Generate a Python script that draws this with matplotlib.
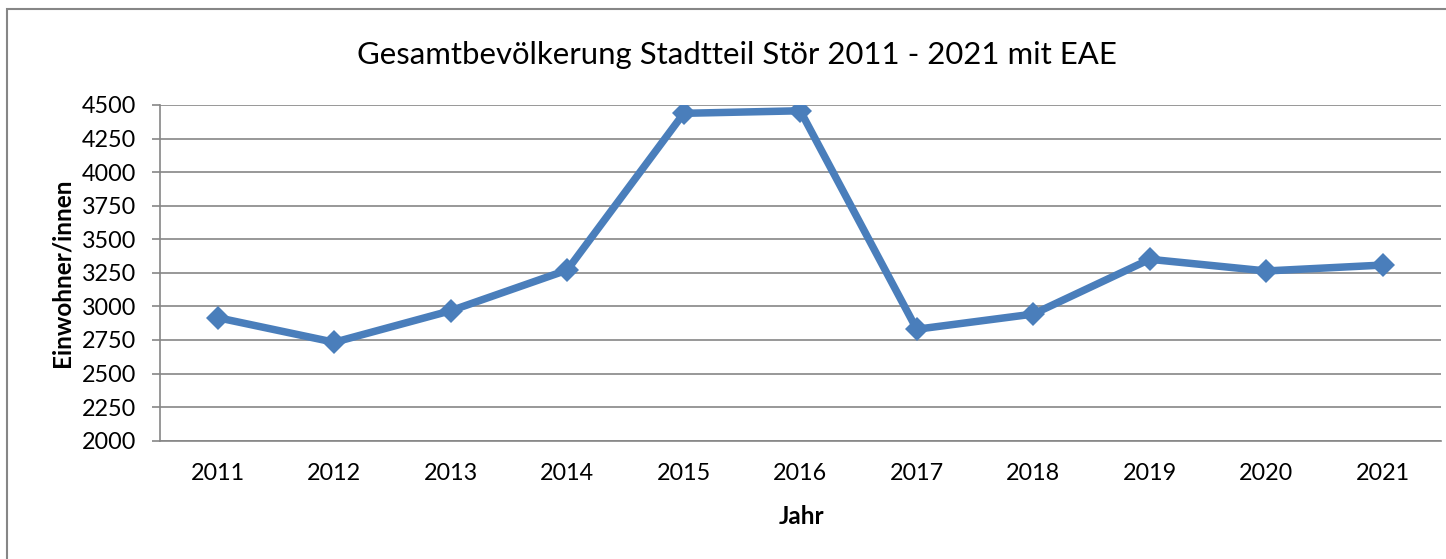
import matplotlib.pyplot as plt
from matplotlib.patches import Rectangle

# Einwohnerzahlen Stadtteil Stör inkl. EAE
jahre = ["2011", "2012", "2013", "2014", "2015", "2016",
         "2017", "2018", "2019", "2020", "2021"]
einwohner = [2916, 2733, 2968, 3271, 4438, 4457, 2830, 2943, 3351, 3264, 3308]
y_ticks = list(range(2000, 4501, 250))

plt.rcParams["font.family"] = ["Lato", "DejaVu Sans"]

fig = plt.figure(figsize=(14.46, 5.59), dpi=100)
ax = fig.add_axes([159.5 / 1446, 1 - 440.7 / 559, (1441 - 159.5) / 1446, (440.7 - 105) / 559])

x = range(len(jahre))
ax.plot(x, einwohner, color="#4A7EBB", lw=5.4, marker="D", markersize=12.5,
        markeredgewidth=0, solid_joinstyle="miter", zorder=3)

ax.set_xlim(-0.5, len(jahre) - 0.5)
ax.set_ylim(2000, 4500)
ax.set_xticks(list(x))
ax.set_xticklabels(jahre)
ax.set_yticks(y_ticks)
ax.set_yticklabels([str(v) for v in y_ticks])

ax.yaxis.grid(True, color="#868686", lw=1.2)
ax.set_axisbelow(True)
for side in ["top", "right"]:
    ax.spines[side].set_visible(False)
for side in ["left", "bottom"]:
    ax.spines[side].set_color("#868686")
    ax.spines[side].set_linewidth(1.2)

ax.tick_params(axis="y", length=5.8, width=1.2, color="#868686", pad=11, labelsize=16.8)
ax.tick_params(axis="x", length=0, pad=16, labelsize=16.8)

fig.text(737 / 1446, 1 - 55 / 559, "Gesamtbevölkerung Stadtteil Stör 2011 - 2021 mit EAE",
         ha="center", va="center", fontsize=22.4)
fig.text(62 / 1446, 1 - 273 / 559, "Einwohner/innen", rotation=90,
         ha="center", va="center", fontsize=17.5, fontweight="bold")
fig.text(802 / 1446, 1 - 517 / 559, "Jahr", ha="center", va="center",
         fontsize=17.5, fontweight="bold")

# Rahmen um das Diagramm
fig.add_artist(Rectangle((7.3 / 1446, -0.1), 2, 1 - 9.3 / 559 + 0.1,
                         transform=fig.transFigure, fill=False,
                         edgecolor="#868686", lw=1.5))

fig.savefig("out.png", dpi=100)
